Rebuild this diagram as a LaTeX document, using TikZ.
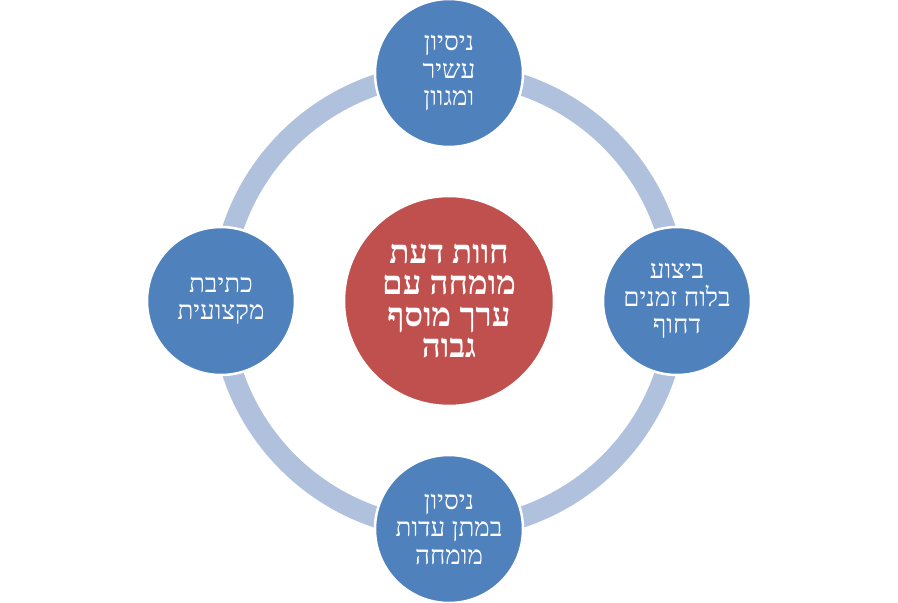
\documentclass[tikz,border=0pt]{standalone}
\usepackage{fontspec}
\setmainfont{Liberation Serif}
\newfontfamily\hebfont[Script=Hebrew]{Liberation Serif}
\TeXXeTstate=1
\definecolor{ringc}{HTML}{B0C1DE}
\definecolor{bluec}{HTML}{4F81BD}
\definecolor{redc}{HTML}{C0504D}
\tikzset{
  outer/.style={circle, fill=bluec, draw=white, line width=2.5pt, minimum size=148pt, inner sep=0pt,
    text=white, align=center, font=\hebfont\fontsize{26}{27.5}\selectfont},
  inner/.style={circle, fill=redc, draw=white, line width=2.5pt, minimum size=210pt, inner sep=0pt,
    text=white, align=center, font=\hebfont\bfseries\fontsize{33}{31.5}\selectfont},
  ring/.style={draw=ringc, line width=21pt}
}
\begin{document}
\begin{tikzpicture}[x=1pt,y=-1pt]
\useasboundingbox (0,0) rectangle (898,603);
\coordinate (c) at (449,301);
\draw[ring] (c) circle (228);
\node[inner] (mid) at (449,301) {\beginR חוות דעת\endR\\\beginR מומחה עם\endR\\\beginR ערך מוסף\endR\\\beginR גבוה\endR};
\node[outer] (top) at (449,73) {\beginR ניסיון\endR\\\beginR עשיר\endR\\\beginR ומגוון\endR};
\node[outer] (right) at (677,301) {\beginR ביצוע\endR\\\beginR בלוח זמנים\endR\\\beginR דחוף\endR};
\node[outer] (bottom) at (449,529) {\beginR ניסיון\endR\\\beginR במתן עדות\endR\\\beginR מומחה\endR};
\node[outer] (left) at (221,301) {\beginR כתיבת\endR\\\beginR מקצועית\endR};
\end{tikzpicture}
\end{document}
